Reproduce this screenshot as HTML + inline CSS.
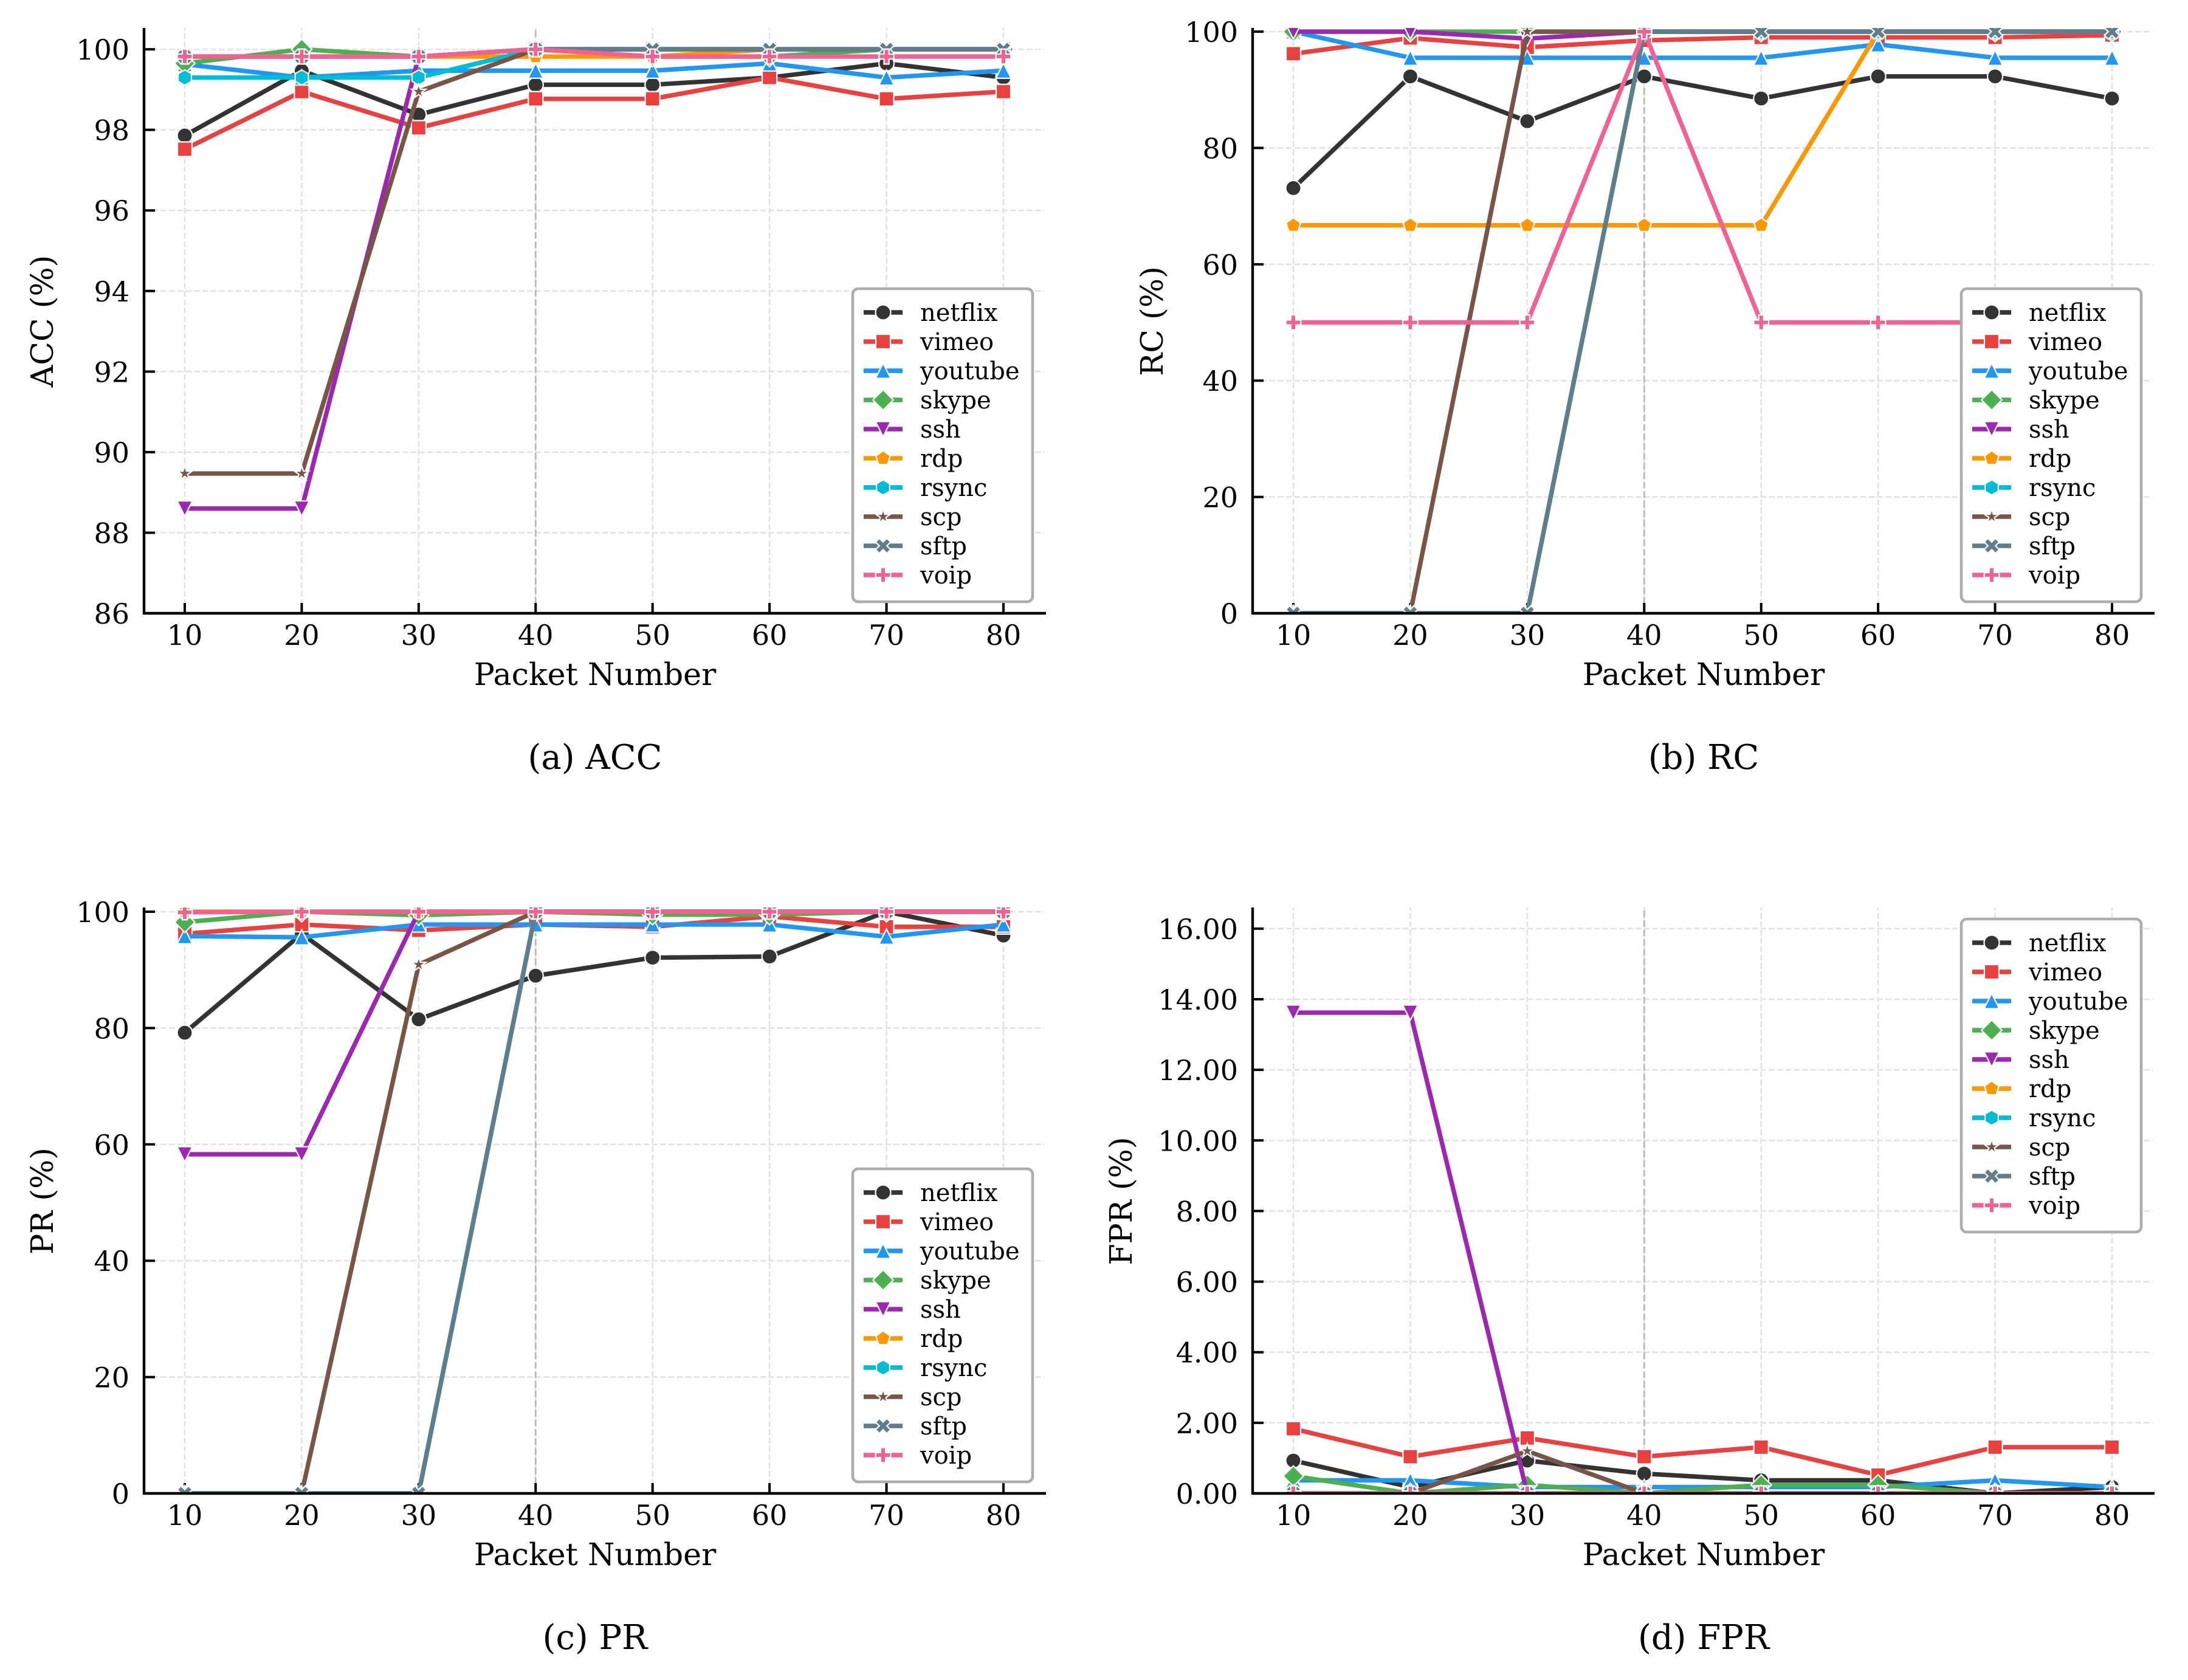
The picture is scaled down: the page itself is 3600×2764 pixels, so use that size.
<!DOCTYPE html>
<html lang="en">
<head>
<meta charset="utf-8">
<title>Traffic classification metrics by packet number</title>
<style>
html,body{margin:0;padding:0;background:#fff;}
svg{display:block;}
text{font-family:"DejaVu Serif","Liberation Serif",serif;fill:#000;}
</style>
</head>
<body>
<svg id="figure" xmlns="http://www.w3.org/2000/svg" width="3600" height="2764" viewBox="0 0 3600 2764">
<rect x="0" y="0" width="3600" height="2764" fill="#ffffff"/>
</svg>
<script>
const categories = [10, 20, 30, 40, 50, 60, 70, 80];
const seriesNames = ['netflix', 'vimeo', 'youtube', 'skype', 'ssh', 'rdp', 'rsync', 'scp', 'sftp', 'voip'];

const accTicks = [86, 88, 90, 92, 94, 96, 98, 100];
const rcTicks = [0, 20, 40, 60, 80, 100];
const prTicks = [0, 20, 40, 60, 80, 100];
const fprTicks = [0, 2, 4, 6, 8, 10, 12, 14, 16];

const accNetflix = [97.86, 99.47, 98.38, 99.12, 99.12, 99.3, 99.65, 99.3];
const accVimeo = [97.52, 98.95, 98.05, 98.77, 98.77, 99.3, 98.77, 98.95];
const accYoutube = [99.63, 99.3, 99.47, 99.47, 99.47, 99.65, 99.3, 99.47];
const accSkype = [99.65, 100, 99.82, 100, 99.82, 99.82, 100, 100];
const accSsh = [88.6, 88.6, 99.82, 100, 100, 100, 100, 100];
const accRdp = [99.82, 99.82, 99.82, 99.82, 99.82, 100, 100, 100];
const accRsync = [99.3, 99.3, 99.3, 100, 100, 100, 100, 100];
const accScp = [89.47, 89.47, 98.95, 100, 100, 100, 100, 100];
const accSftp = [99.82, 99.82, 99.82, 100, 100, 100, 100, 100];
const accVoip = [99.82, 99.82, 99.82, 100, 99.82, 99.82, 99.82, 99.82];

const rcNetflix = [73.1, 92.3, 84.6, 92.3, 88.5, 92.3, 92.3, 88.5];
const rcVimeo = [96.2, 98.9, 97.3, 98.5, 99, 99, 99, 99.4];
const rcYoutube = [100, 95.5, 95.5, 95.5, 95.5, 97.8, 95.5, 95.5];
const rcSkype = [100, 100, 100, 100, 100, 100, 100, 100];
const rcSsh = [100, 100, 98.8, 100, 100, 100, 100, 100];
const rcRdp = [66.7, 66.7, 66.7, 66.7, 66.7, 100, 100, 100];
const rcRsync = [0, 0, 0, 100, 100, 100, 100, 100];
const rcScp = [0, 0, 100, 100, 100, 100, 100, 100];
const rcSftp = [0, 0, 0, 100, 100, 100, 100, 100];
const rcVoip = [50, 50, 50, 100, 50, 50, 50, 50];

const prNetflix = [79.2, 96.2, 81.5, 89, 92.1, 92.3, 100, 95.9];
const prVimeo = [96.2, 97.8, 96.8, 97.8, 97.4, 99.2, 97.4, 97.4];
const prYoutube = [95.8, 95.6, 97.8, 97.8, 97.8, 97.8, 95.7, 97.8];
const prSkype = [98.2, 100, 99.4, 100, 99.5, 99.5, 100, 100];
const prSsh = [58.3, 58.3, 100, 100, 100, 100, 100, 100];
const prRdp = [100, 100, 100, 100, 100, 100, 100, 100];
const prRsync = [0, 0, 0, 100, 100, 100, 100, 100];
const prScp = [0, 0, 90.9, 100, 100, 100, 100, 100];
const prSftp = [0, 0, 0, 100, 100, 100, 100, 100];
const prVoip = [99.9, 100, 100, 100, 100, 100, 100, 100];

const fprNetflix = [0.93, 0.18, 0.93, 0.56, 0.37, 0.37, 0, 0.18];
const fprVimeo = [1.83, 1.04, 1.57, 1.04, 1.31, 0.52, 1.31, 1.31];
const fprYoutube = [0.37, 0.37, 0.18, 0.18, 0.18, 0.18, 0.37, 0.18];
const fprSkype = [0.49, 0, 0.24, 0, 0.24, 0.24, 0, 0];
const fprSsh = [13.62, 13.62, 0, 0, 0, 0, 0, 0];
const fprRdp = [0, 0, 0, 0, 0, 0, 0, 0];
const fprRsync = [0, 0, 0, 0, 0, 0, 0, 0];
const fprScp = [0, 0, 1.2, 0, 0, 0, 0, 0];
const fprSftp = [0, 0, 0, 0, 0, 0, 0, 0];
const fprVoip = [0, 0, 0, 0, 0, 0, 0, 0];

const SVGNS = 'http://www.w3.org/2000/svg';
const root = document.getElementById('figure');
const colors = ['#333333', '#e94040', '#2196f3', '#4caf50', '#9c27b0', '#ff9800', '#00bcd4', '#795548', '#607d8b', '#f06292'];
const markerKinds = ['circle', 'square', 'up', 'diamond', 'down', 'pentagon', 'hexagon', 'star', 'cross', 'plus'];

const panels = [
  { key: 'acc', title: 'ACC (%)', caption: '(a) ACC', left: 237, top: 46, bottom: 1009, yMin: 86, yMax: 100.53, ticks: accTicks, digits: 0, yLabelX: 87, legendX: 1403, legendY: 475,
    series: [accNetflix, accVimeo, accYoutube, accSkype, accSsh, accRdp, accRsync, accScp, accSftp, accVoip] },
  { key: 'rc', title: 'RC (%)', caption: '(b) RC', left: 2061, top: 46, bottom: 1009, yMin: 0, yMax: 100.63, ticks: rcTicks, digits: 0, yLabelX: 1913, legendX: 3227, legendY: 475,
    series: [rcNetflix, rcVimeo, rcYoutube, rcSkype, rcSsh, rcRdp, rcRsync, rcScp, rcSftp, rcVoip] },
  { key: 'pr', title: 'PR (%)', caption: '(c) PR', left: 237, top: 1493, bottom: 2457, yMin: 0, yMax: 100.73, ticks: prTicks, digits: 0, yLabelX: 87, legendX: 1403, legendY: 1923,
    series: [prNetflix, prVimeo, prYoutube, prSkype, prSsh, prRdp, prRsync, prScp, prSftp, prVoip] },
  { key: 'fpr', title: 'FPR (%)', caption: '(d) FPR', left: 2061, top: 1493, bottom: 2457, yMin: 0, yMax: 16.6, ticks: fprTicks, digits: 2, yLabelX: 1862, legendX: 3227, legendY: 1512,
    series: [fprNetflix, fprVimeo, fprYoutube, fprSkype, fprSsh, fprRdp, fprRsync, fprScp, fprSftp, fprVoip] }
];

const AXIS_WIDTH = 1484;
const X_PAD_LEFT = 67;
const X_SPAN = 1347;

function make(tag, attrs, parent) {
  const node = document.createElementNS(SVGNS, tag);
  for (const k in attrs) node.setAttribute(k, attrs[k]);
  if (parent) parent.appendChild(node);
  return node;
}

function polygonPath(pts, cx, cy) {
  return 'M' + pts.map(p => (cx + p[0]).toFixed(2) + ' ' + (cy + p[1]).toFixed(2)).join('L') + 'Z';
}

function regular(n, r, start) {
  const pts = [];
  for (let i = 0; i < n; i++) {
    const a = start + i * 2 * Math.PI / n;
    pts.push([r * Math.cos(a), r * Math.sin(a)]);
  }
  return pts;
}

function markerPath(kind, cx, cy) {
  const up = -Math.PI / 2;
  if (kind === 'circle') {
    return `M${cx - 12.5} ${cy}A12.5 12.5 0 1 0 ${cx + 12.5} ${cy}A12.5 12.5 0 1 0 ${cx - 12.5} ${cy}Z`;
  }
  if (kind === 'square') return polygonPath([[-12, -12], [12, -12], [12, 12], [-12, 12]], cx, cy);
  if (kind === 'up') return polygonPath([[0, -12.5], [12.5, 12.5], [-12.5, 12.5]], cx, cy);
  if (kind === 'down') return polygonPath([[0, 12.5], [12.5, -12.5], [-12.5, -12.5]], cx, cy);
  if (kind === 'diamond') return polygonPath([[0, -16.8], [16.8, 0], [0, 16.8], [-16.8, 0]], cx, cy);
  if (kind === 'pentagon') return polygonPath(regular(5, 12.5, up), cx, cy);
  if (kind === 'hexagon') return polygonPath(regular(6, 12.5, up), cx, cy);
  if (kind === 'star') {
    const outer = regular(5, 12.5, up);
    const inner = regular(5, 4.8, up + Math.PI / 5);
    const pts = [];
    for (let i = 0; i < 5; i++) { pts.push(outer[i]); pts.push(inner[i]); }
    return polygonPath(pts, cx, cy);
  }
  if (kind === 'cross') {
    const u = 6.2;
    return polygonPath([[-1, -2], [0, -1], [1, -2], [2, -1], [1, 0], [2, 1], [1, 2], [0, 1], [-1, 2], [-2, 1], [-1, 0], [-2, -1]].map(p => [p[0] * u, p[1] * u]), cx, cy);
  }
  const u = 4.1;
  return polygonPath([[-1, -3], [1, -3], [1, -1], [3, -1], [3, 1], [1, 1], [1, 3], [-1, 3], [-1, 1], [-3, 1], [-3, -1], [-1, -1]].map(p => [p[0] * u, p[1] * u]), cx, cy);
}

function drawPanel(panel) {
  const right = panel.left + AXIS_WIDTH;
  const xScale = v => panel.left + X_PAD_LEFT + (v - categories[0]) / (categories[categories.length - 1] - categories[0]) * X_SPAN;
  const yScale = v => panel.bottom - (v - panel.yMin) / (panel.yMax - panel.yMin) * (panel.bottom - panel.top);

  const g = make('g', {}, root);
  
  

  const clipId = `clip-${panel.key}`;
  const defs = make('defs', {}, g);
  const clip = make('clipPath', { id: clipId }, defs);
  make('rect', { x: panel.left, y: panel.top, width: AXIS_WIDTH, height: panel.bottom - panel.top }, clip);

  const grid = make('g', { stroke: '#e2e2e2', 'stroke-width': 2.6, 'stroke-dasharray': '9.5 4.2', fill: 'none' }, g);
  
  
  panel.ticks.forEach(t => {
    const line = make('line', { x1: panel.left, x2: right - 3, y1: yScale(t), y2: yScale(t) }, grid);
    
    
  });
  categories.forEach(c => {
    const line = make('line', { x1: xScale(c), x2: xScale(c), y1: panel.bottom, y2: panel.top }, grid);
    
    
  });

  const marker40 = make('line', { x1: xScale(40), x2: xScale(40), y1: panel.bottom, y2: panel.top, stroke: '#bcbcbc', 'stroke-width': 3, 'stroke-dasharray': '11 4.8' }, g);
  
  

  panel.ticks.forEach(t => {
    const tick = make('line', { x1: panel.left, x2: panel.left + 18, y1: yScale(t), y2: yScale(t), stroke: '#000', 'stroke-width': 4 }, g);
    
    
    const label = make('text', { x: panel.left - 24, y: yScale(t) + 17, 'text-anchor': 'end', 'font-size': 46 }, g);
    label.textContent = t.toFixed(panel.digits);
    
    
  });
  categories.forEach(c => {
    const tick = make('line', { x1: xScale(c), x2: xScale(c), y1: panel.bottom, y2: panel.bottom - 17, stroke: '#000', 'stroke-width': 4 }, g);
    
    
    const label = make('text', { x: xScale(c), y: panel.bottom + 52, 'text-anchor': 'middle', 'font-size': 46 }, g);
    label.textContent = String(c);
    
    
  });

  const plot = make('g', { 'clip-path': `url(#${clipId})` }, g);
  
  
  panel.series.forEach((values, s) => {
    const group = make('g', {}, plot);
    
    
    const d = values.map((v, i) => (i ? 'L' : 'M') + xScale(categories[i]).toFixed(2) + ' ' + yScale(v).toFixed(2)).join('');
    const line = make('path', { d: d, fill: 'none', stroke: colors[s], 'stroke-width': 7.4, 'stroke-linejoin': 'round' }, group);
    
    
    values.forEach((v, i) => {
      const m = make('path', { d: markerPath(markerKinds[s], xScale(categories[i]), yScale(v)), fill: colors[s], stroke: '#ffffff', 'stroke-width': 2.2, 'stroke-linejoin': 'miter' }, group);
      
      
    });
  });

  const leftSpine = make('line', { x1: panel.left, x2: panel.left, y1: panel.top, y2: panel.bottom + 2, stroke: '#000', 'stroke-width': 4.4 }, g);
  
  
  const bottomSpine = make('line', { x1: panel.left - 2, x2: right, y1: panel.bottom, y2: panel.bottom, stroke: '#000', 'stroke-width': 4.4 }, g);
  
  

  const xTitle = make('text', { x: panel.left + AXIS_WIDTH / 2, y: panel.bottom + 118, 'text-anchor': 'middle', 'font-size': 50.6 }, g);
  xTitle.textContent = 'Packet Number';
  
  

  const yMid = (panel.top + panel.bottom) / 2 + 1;
  const yTitle = make('text', { transform: `translate(${panel.yLabelX} ${yMid}) rotate(-90)`, 'text-anchor': 'middle', 'font-size': 50.6 }, g);
  yTitle.textContent = panel.title;
  
  

  const caption = make('text', { x: panel.left + AXIS_WIDTH / 2, y: panel.bottom + 256, 'text-anchor': 'middle', 'font-size': 56 }, g);
  caption.textContent = panel.caption;
  
  

  const legend = make('g', {}, g);
  
  
  const frame = make('rect', { x: panel.legendX, y: panel.legendY, width: 296, height: 515, rx: 9, ry: 9, fill: '#ffffff', stroke: '#adadad', 'stroke-width': 4.6 }, legend);
  
  
  seriesNames.forEach((name, s) => {
    const rowY = panel.legendY + 39 + s * 48;
    const entry = make('g', {}, legend);
    
    
    const handle = make('line', { x1: panel.legendX + 18, x2: panel.legendX + 82, y1: rowY, y2: rowY, stroke: colors[s], 'stroke-width': 7.4 }, entry);
    
    
    const glyph = make('path', { d: markerPath(markerKinds[s], panel.legendX + 50, rowY), fill: colors[s], stroke: '#ffffff', 'stroke-width': 2.2 }, entry);
    
    
    const text = make('text', { x: panel.legendX + 111, y: rowY + 14, 'font-size': 40 }, entry);
    text.textContent = name;
    
    
  });
}

panels.forEach(drawPanel);
</script>
</body>
</html>
